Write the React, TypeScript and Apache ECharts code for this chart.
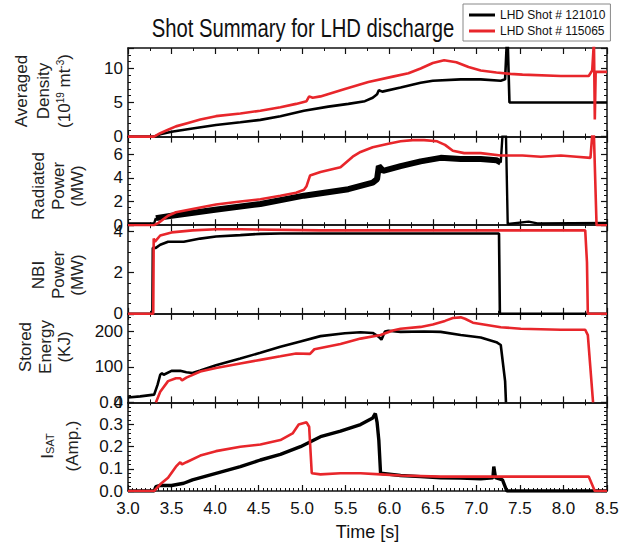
import React, { useEffect, useRef } from "react";
import * as echarts from "echarts";

// ---------- texts ----------
const TITLE = "Shot Summary for LHD discharge";
const SHOT_A = "LHD Shot # 121010";
const SHOT_B = "LHD Shot # 115065";
const X_NAME = "Time [s]";

// ---------- axes ----------
const TIME_MIN = 3.0;
const TIME_MAX = 8.5;
const TIME_STEP = 0.5;
const panelMax = [13, 7.5, 4.3, 250, 0.4];
const panelStep = [5, 2, 2, 100, 0.1];
const panelDecimals = [0, 0, 0, 0, 1];

// ---------- data (time s, value) ----------
const densityA = [
  [3.0, 0], [3.3, 0], [3.37, 0.35], [3.5, 0.7], [3.74, 1.2], [4.01, 1.7], [4.29, 2.1],
  [4.52, 2.45], [4.75, 3.0], [5.02, 3.8], [5.3, 4.4], [5.53, 4.8], [5.72, 5.2], [5.81, 5.7],
  [5.86, 6.2], [5.88, 6.8], [5.92, 6.6], [6.13, 7.2], [6.36, 7.9], [6.5, 8.2], [6.82, 8.4],
  [7.05, 8.4], [7.28, 8.2], [7.33, 8.4], [7.35, 14], [7.36, 14], [7.38, 5.0], [8.5, 5.0],
];
const densityB = [
  [3.0, 0], [3.3, 0], [3.37, 0.5], [3.46, 1.0], [3.55, 1.5], [3.69, 2.0], [3.83, 2.5],
  [4.01, 3.0], [4.29, 3.4], [4.52, 3.8], [4.75, 4.3], [4.93, 4.8], [5.05, 5.2], [5.08, 5.9],
  [5.12, 5.7], [5.21, 5.9], [5.49, 7.0], [5.76, 8.0], [6.04, 8.8], [6.22, 9.3], [6.36, 10.0],
  [6.5, 10.8], [6.63, 11.2], [6.77, 10.9], [6.91, 10.2], [7.05, 9.7], [7.23, 9.4], [7.39, 9.2],
  [7.53, 9.1], [7.97, 8.9], [8.29, 8.9], [8.33, 9.7], [8.35, 14], [8.36, 2.5], [8.37, 9.5],
  [8.5, 9.5],
];
// noisy band part of shot A radiated power (drawn thick) and its quiet parts
const radiatedA = [
  [3.32, 0.6], [3.5, 0.8], [4.0, 1.3], [4.52, 1.8], [5.02, 2.5],
  [5.53, 3.05], [5.81, 3.6], [5.86, 3.9], [5.88, 5.0], [5.93, 4.6], [6.13, 5.0], [6.36, 5.4],
  [6.59, 5.7], [6.82, 5.6], [7.05, 5.6], [7.23, 5.5], [7.28, 5.3],
];
const radiatedATails = [
  [3.0, 0.15], [3.3, 0.15], [3.32, 0.6], null, [7.28, 5.3], [7.3, 7.6], [7.34, 7.6],
  [7.36, 0.1], [7.6, 0.3], [7.7, 0.15], [8.5, 0.2],
];
const radiatedB = [
  [3.0, 0], [3.3, 0], [3.35, 0.2], [3.46, 0.8], [3.55, 1.1], [3.83, 1.5], [4.01, 1.75],
  [4.29, 2.0], [4.52, 2.2], [4.75, 2.5], [4.93, 2.75], [5.02, 3.0], [5.05, 3.3], [5.09, 4.2],
  [5.21, 4.5], [5.44, 4.9], [5.58, 5.8], [5.67, 6.2], [5.81, 6.6], [5.99, 6.9], [6.13, 7.1],
  [6.27, 7.2], [6.4, 7.2], [6.55, 7.1], [6.64, 6.8], [6.73, 6.3], [6.86, 6.1], [7.05, 6.1],
  [7.28, 5.9], [7.53, 5.9], [7.74, 5.8], [7.97, 5.9], [8.15, 5.8], [8.31, 5.7], [8.33, 7.6],
  [8.35, 7.6], [8.38, 0], [8.5, 0],
];
const nbiA = [
  [3.0, 0], [3.28, 0], [3.285, 3.2], [3.32, 3.2], [3.37, 3.35], [3.46, 3.5], [3.64, 3.5],
  [3.83, 3.65], [4.01, 3.75], [4.29, 3.82], [4.52, 3.88], [4.75, 3.9], [7.26, 3.9], [7.27, 0],
  [8.5, 0],
];
const nbiB = [
  [3.0, 0], [3.29, 0], [3.295, 3.65], [3.31, 3.5], [3.37, 3.8], [3.5, 3.95], [3.74, 4.05],
  [4.01, 4.1], [4.29, 4.1], [5.21, 4.05], [8.25, 4.05], [8.27, 2.5], [8.28, 0], [8.5, 0],
];
const storedA = [
  [3.0, 14], [3.14, 17], [3.3, 22], [3.34, 50], [3.37, 78], [3.39, 82], [3.41, 78], [3.5, 89],
  [3.6, 89], [3.67, 85], [3.74, 83], [3.83, 90], [4.01, 105], [4.29, 124], [4.52, 140],
  [4.75, 157], [4.98, 172], [5.21, 187], [5.49, 195], [5.67, 198], [5.81, 196], [5.88, 185],
  [5.91, 177], [5.95, 200], [5.99, 202], [6.13, 199], [6.4, 200], [6.59, 199], [6.82, 190],
  [7.05, 183], [7.23, 170], [7.28, 162], [7.33, 60], [7.34, 0],
];
const storedB = [
  [3.32, 0], [3.37, 30], [3.46, 60], [3.55, 68], [3.6, 68], [3.62, 62], [3.67, 70], [3.83, 87],
  [4.01, 97], [4.29, 110], [4.52, 120], [4.75, 130], [4.93, 138], [5.09, 137], [5.14, 150],
  [5.44, 165], [5.67, 180], [5.9, 190], [6.04, 203], [6.13, 208], [6.36, 213], [6.5, 220],
  [6.64, 230], [6.73, 238], [6.82, 240], [6.87, 236], [6.96, 225], [7.28, 212], [7.51, 208],
  [7.97, 205], [8.25, 205], [8.28, 190], [8.34, 0],
];
const isatA = [
  [3.0, 0], [3.3, 0], [3.32, 0.02], [3.37, 0.025], [3.5, 0.025], [3.64, 0.035], [3.74, 0.05],
  [4.01, 0.08], [4.29, 0.11], [4.52, 0.14], [4.75, 0.165], [4.98, 0.2], [5.21, 0.245],
  [5.44, 0.27], [5.67, 0.3], [5.81, 0.33], [5.84, 0.35], [5.86, 0.31], [5.88, 0.23], [5.9, 0.08],
  [6.13, 0.07], [6.36, 0.065], [6.59, 0.06], [6.82, 0.058], [7.05, 0.055], [7.19, 0.06],
  [7.2, 0.11], [7.22, 0.06], [7.3, 0.05], [7.35, 0], [8.5, 0],
];
const isatB = [
  [3.0, 0], [3.3, 0], [3.37, 0.03], [3.46, 0.06], [3.55, 0.11], [3.6, 0.13], [3.62, 0.12],
  [3.67, 0.13], [3.83, 0.16], [4.01, 0.18], [4.29, 0.2], [4.52, 0.21], [4.75, 0.23],
  [4.89, 0.26], [4.96, 0.3], [5.05, 0.31], [5.08, 0.29], [5.11, 0.08], [5.21, 0.075],
  [5.44, 0.08], [5.67, 0.08], [5.9, 0.075], [6.13, 0.07], [6.59, 0.065], [7.05, 0.065],
  [7.51, 0.065], [7.97, 0.065], [8.29, 0.065], [8.36, 0], [8.5, 0],
];
const shotAData = [densityA, radiatedA, nbiA, storedA, isatA];
const shotBData = [densityB, radiatedB, nbiB, storedB, isatB];
const shotAWidth = [2.6, 6, 2.6, 2.6, 3.4];

// ---------- y-axis titles (columns, rich text) ----------
const yTitles = [
  ["Averaged", "Density", "{n|(10}{sp|19}{n| mt}{sp|-3}{n|)}"],
  ["Radiated", "Power", "(MW)"],
  ["NBI", "Power", "(MW)"],
  ["Stored", "Energy", "(KJ)"],
  ["{n|I}{sb|SAT}", "(Amp.)"],
];

// ---------- layout ----------
const GRID_LEFT = 128;
const GRID_WIDTH = 479;
const GRID_TOP = 48;
const PANEL_H = 88.6;
const yTitleX = [
  [21, 43, 64],
  [38, 58, 77],
  [38, 58, 77],
  [25, 45, 64],
  [47, 72],
];
const yTitleY = [91, 186, 275, 347, 446];

const FONT = "'Liberation Sans', Arial, sans-serif";
const BLACK = "#000000";
const RED = "#e8262b";
const INK = "#111111";

function buildOption() {
  const grid: any[] = [];
  const xAxis: any[] = [];
  const yAxis: any[] = [];
  const series: any[] = [];
  const graphic: any[] = [];
  const n = panelMax.length;

  for (let i = 0; i < n; i++) {
    const top = GRID_TOP + i * PANEL_H;
    grid.push({ left: GRID_LEFT, width: GRID_WIDTH, top, height: PANEL_H });
    const last = i === n - 1;
    const frame = { show: true, onZero: false, lineStyle: { color: INK, width: 1.5 } };
    for (const pos of ["bottom", "top"]) {
      const showLabel = last && pos === "bottom";
      xAxis.push({
        type: "value",
        gridIndex: i,
        position: pos,
        min: TIME_MIN,
        max: TIME_MAX,
        interval: TIME_STEP,
        axisLine: frame,
        axisTick: { show: true, inside: true, length: 6, lineStyle: { color: INK, width: 1.2 } },
        minorTick: { show: true, splitNumber: showLabel ? 10 : 2, length: 3, lineStyle: { color: INK, width: 1 } },
        splitLine: { show: false },
        axisLabel: {
          show: showLabel,
          margin: 9,
          fontSize: 17,
          fontFamily: FONT,
          color: INK,
          formatter: (v: number) => v.toFixed(1),
        },
        name: showLabel ? X_NAME : "",
        nameLocation: "middle",
        nameGap: 32,
        nameTextStyle: { fontSize: 18, fontFamily: FONT, color: INK },
      });
    }
    const step = panelStep[i];
    const dec = panelDecimals[i];
    for (const pos of ["left", "right"]) {
      yAxis.push({
        type: "value",
        gridIndex: i,
        position: pos,
        min: 0,
        max: panelMax[i],
        interval: step,
        axisLine: frame,
        axisTick: { show: true, inside: true, length: 6, lineStyle: { color: INK, width: 1.2 } },
        minorTick: { show: true, splitNumber: i === 1 || i === 2 ? 4 : 5, length: 3, lineStyle: { color: INK, width: 1 } },
        splitLine: { show: false },
        axisLabel: {
          show: pos === "left",
          margin: 5,
          fontSize: 17,
          fontFamily: FONT,
          color: INK,
          formatter: (v: number) => {
            const k = v / step;
            if (Math.abs(k - Math.round(k)) > 1e-6) return "";
            return v.toFixed(dec);
          },
        },
      });
    }
    series.push({
      type: "line",
      name: SHOT_A,
      xAxisIndex: i * 2,
      yAxisIndex: i * 2,
      data: shotAData[i],
      showSymbol: false,
      symbol: "none",
      color: BLACK,
      lineStyle: { color: BLACK, width: shotAWidth[i] },
      z: 3,
    });
    if (i === 1) {
      series.push({
        type: "line",
        name: SHOT_A,
        xAxisIndex: 2,
        yAxisIndex: 2,
        data: radiatedATails,
        connectNulls: false,
        showSymbol: false,
        symbol: "none",
        color: BLACK,
        lineStyle: { color: BLACK, width: 2.4 },
        z: 3,
      });
    }
    series.push({
      type: "line",
      name: SHOT_B,
      xAxisIndex: i * 2,
      yAxisIndex: i * 2,
      data: shotBData[i],
      showSymbol: false,
      symbol: "none",
      color: RED,
      lineStyle: { color: RED, width: 2.6 },
      z: 4,
    });

    yTitles[i].forEach((txt, j) => {
      graphic.push({
        type: "text",
        x: yTitleX[i][j],
        y: yTitleY[i],
        rotation: Math.PI / 2,
        style: {
          text: txt,
          fill: "#222",
          fontSize: 17,
          fontFamily: FONT,
          align: "center",
          verticalAlign: "middle",
          rich: {
            n: { fontSize: 17, fontFamily: FONT, fill: "#222" },
            sp: { fontSize: 10, fontFamily: FONT, fill: "#222", verticalAlign: "top" },
            sb: { fontSize: 11, fontFamily: FONT, fill: "#222", verticalAlign: "bottom" },
          },
        },
      });
    });
  }

  // title, condensed horizontally like the reference's narrow face
  graphic.push({
    type: "text",
    x: 303,
    y: 28,
    scaleX: 0.81,
    style: {
      text: TITLE,
      fill: INK,
      fontSize: 25,
      fontFamily: FONT,
      align: "center",
      verticalAlign: "middle",
    },
  });

  return {
    animation: false,
    backgroundColor: "#ffffff",
    legend: {
      orient: "vertical",
      left: 463,
      top: 4,
      padding: [5, 5, 4, 6],
      itemGap: 4,
      itemWidth: 26,
      itemHeight: 3,
      icon: "rect",
      borderColor: "#888",
      borderWidth: 1,
      data: [SHOT_A, SHOT_B],
      textStyle: { fontSize: 12, fontFamily: FONT, color: INK },
    },
    grid,
    xAxis,
    yAxis,
    series,
    graphic,
  };
}

export default function App() {
  const ref = useRef<HTMLDivElement>(null);
  useEffect(() => {
    if (!ref.current) return;
    const chart = echarts.init(ref.current, undefined, { renderer: "svg" });
    chart.setOption(buildOption() as any);
    return () => chart.dispose();
  }, []);
  return <div ref={ref} style={{ width: 630, height: 544, position: "absolute", left: 0, top: 0 }} />;
}
